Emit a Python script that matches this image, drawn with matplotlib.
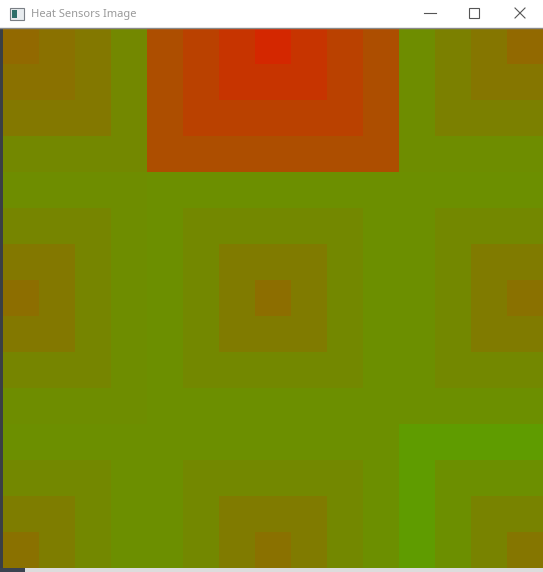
import numpy as np
import matplotlib
matplotlib.use('Agg')
import matplotlib.pyplot as plt
from matplotlib.colors import LinearSegmentedColormap
from matplotlib.patches import Rectangle
from matplotlib.lines import Line2D

# 15x15 sensor image, 3x3 sensors, each with a centre cell and 3 square rings
n_cells = 15
sensor_cols = [0, 7, 14]
sensor_rows = [0, 7, 14]
# heat level (0 = green, 1 = red): centre, ring 1, ring 2, ring 3 for each sensor
heat_top = [[0.58, 0.55, 0.52, 0.46], [0.84, 0.79, 0.74, 0.69], [0.58, 0.53, 0.49, 0.44]]
heat_mid = [[0.56, 0.52, 0.47, 0.44], [0.56, 0.51, 0.46, 0.43], [0.55, 0.51, 0.46, 0.43]]
heat_bot = [[0.55, 0.50, 0.46, 0.43], [0.55, 0.51, 0.46, 0.43], [0.53, 0.48, 0.43, 0.38]]
window_title = 'Heat Sensors Image'

W, H = 543, 572


def px(x, y):
    # pixel coords (top-left origin) -> figure fraction
    return x / W, 1 - y / H


def make_grid():
    rings = [heat_top, heat_mid, heat_bot]
    grid = np.zeros((n_cells, n_cells))
    for r in range(n_cells):
        for c in range(n_cells):
            i = int(np.argmin([abs(r - s) for s in sensor_rows]))
            j = int(np.argmin([abs(c - s) for s in sensor_cols]))
            d = max(abs(r - sensor_rows[i]), abs(c - sensor_cols[j]))
            grid[r, c] = rings[i][j][d]
    return grid


def main():
    fig = plt.figure(figsize=(W / 100, H / 100), dpi=100)
    fig.patch.set_facecolor('white')

    # desktop / frame bits around the window
    fig.patches.append(Rectangle(px(0, 572), 3 / W, 544 / H, transform=fig.transFigure,
                                 facecolor='#3b3f45', edgecolor='none'))
    fig.patches.append(Rectangle(px(0, 572), 1, 4 / H, transform=fig.transFigure,
                                 facecolor='#dcdcdc', edgecolor='none'))
    fig.patches.append(Rectangle(px(0, 572), 25 / W, 4 / H, transform=fig.transFigure,
                                 facecolor='#3a4350', edgecolor='none'))
    fig.lines.append(Line2D([0, 1], [px(0, 28)[1]] * 2, transform=fig.transFigure,
                            color='#8a8a8a', linewidth=1))

    # title bar
    fig.patches.append(Rectangle(px(10, 20), 14 / W, 12 / H, transform=fig.transFigure,
                                 facecolor='#e8ecef', edgecolor='#7a7f85', linewidth=0.8))
    fig.patches.append(Rectangle(px(12, 18), 5 / W, 8 / H, transform=fig.transFigure,
                                 facecolor='#2e6f6a', edgecolor='none'))
    fig.text(*px(31, 14), window_title, fontsize=8, family='Noto Sans',
             color='#9a9a9a', va='center', ha='left')
    fig.lines.append(Line2D([px(424, 0)[0], px(436, 0)[0]], [px(0, 13)[1]] * 2,
                            transform=fig.transFigure, color='#555555', linewidth=0.8))
    fig.patches.append(Rectangle(px(469, 18), 10 / W, 10 / H, transform=fig.transFigure,
                                 facecolor='none', edgecolor='#555555', linewidth=0.8))
    for (x0, y0, x1, y1) in [(515, 8, 525, 18), (515, 18, 525, 8)]:
        a, b = px(x0, y0)
        c, d = px(x1, y1)
        fig.lines.append(Line2D([a, c], [b, d], transform=fig.transFigure,
                                color='#555555', linewidth=0.8))

    # heat image
    ax = fig.add_axes([3 / W, 4 / H, 540 / W, 540 / H])
    cmap = LinearSegmentedColormap.from_list('heat', [(0, 0.988, 0), (0.988, 0, 0)])
    ax.imshow(make_grid(), cmap=cmap, vmin=0, vmax=1, interpolation='nearest', aspect='auto')
    ax.axis('off')

    plt.savefig('out.png', dpi=100)


if __name__ == '__main__':
    main()
